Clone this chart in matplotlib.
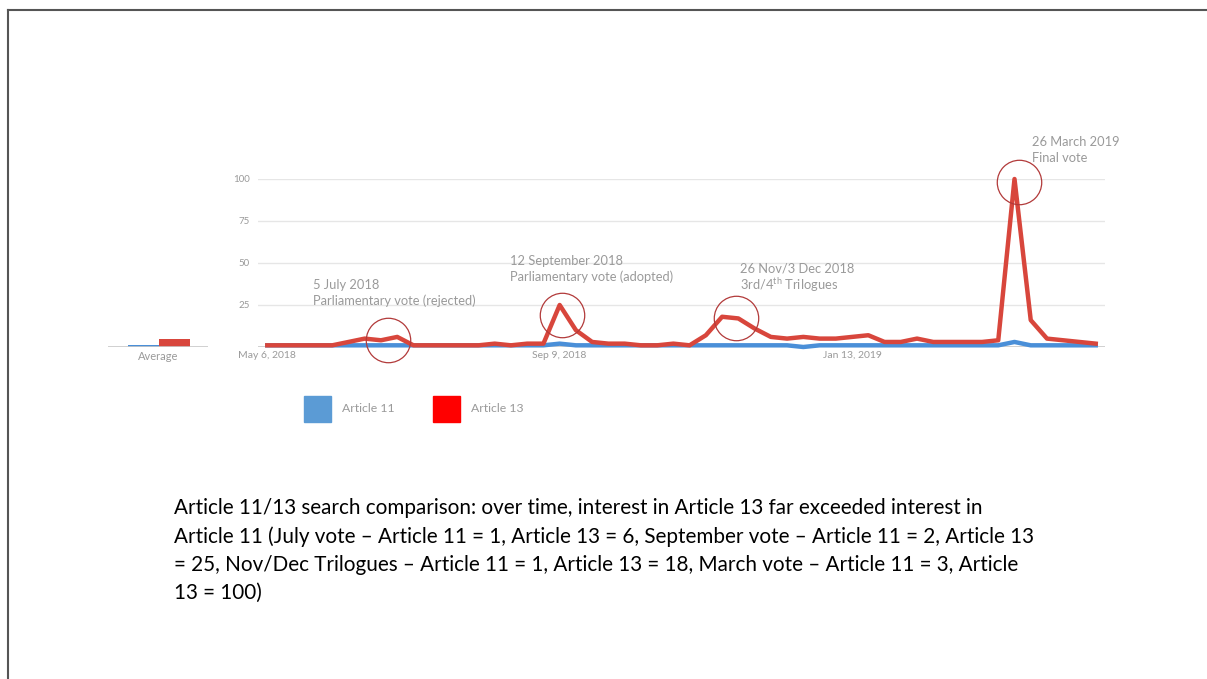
import matplotlib.pyplot as plt
import pandas as pd
import numpy as np

# Weekly Google Trends interest, May 2018 - April 2019
weeks = pd.date_range('2018-05-06', periods=52, freq='W-SUN')
article_13 = [1, 1, 1, 1, 1, 3, 5, 4, 6, 1,
              1, 1, 1, 1, 2, 1, 2, 2, 25, 10,
              3, 2, 2, 1, 1, 2, 1, 7, 18, 17,
              11, 6, 5, 6, 5, 5, 6, 7, 3, 3,
              5, 3, 3, 3, 3, 4, 100, 16, 5, 4,
              3, 2]
article_11 = [1, 1, 1, 1, 1, 1, 1, 1, 1, 1,
              1, 1, 1, 1, 1, 1, 1, 1, 2, 1,
              1, 1, 1, 1, 1, 1, 1, 1, 1, 1,
              1, 1, 1, 0, 1, 1, 1, 1, 1, 1,
              1, 1, 1, 1, 1, 1, 3, 1, 1, 1,
              1, 1]
avg_labels = ['Article 11', 'Article 13']
avg_values = [1, 5]

tick_dates = ['2018-05-06', '2018-09-09', '2019-01-13']
tick_labels = ['May 6, 2018', 'Sep 9, 2018', 'Jan 13, 2019']
y_ticks = [25, 50, 75, 100]

# events: circle centre (date, value) and two label lines
circle_dates = ['2018-06-27', '2018-09-10', '2018-11-24', '2019-03-26']
circle_vals = [4, 19, 17, 98]
event_titles = ['5 July 2018', '12 September 2018', '26 Nov/3 Dec 2018', '26 March 2019']
event_notes = ['Parliamentary vote (rejected)', 'Parliamentary vote (adopted)',
               '3rd/4$^{\\mathrm{th}}$ Trilogues', 'Final vote']
text_pos = [(313, 285), (510, 261), (740, 269), (1032, 142)]

caption = ("Article 11/13 search comparison: over time, interest in Article 13 far exceeded interest in\n"
           "Article 11 (July vote \u2013 Article 11 = 1, Article 13 = 6, September vote \u2013 Article 11 = 2, Article 13\n"
           "= 25, Nov/Dec Trilogues \u2013 Article 11 = 1, Article 13 = 18, March vote \u2013 Article 11 = 3, Article\n"
           "13 = 100)")

W, H = 1207, 679
plt.rcParams['font.family'] = ['Lato', 'DejaVu Sans']
plt.rcParams['mathtext.fontset'] = 'custom'
plt.rcParams['mathtext.rm'] = 'Lato'
fig = plt.figure(figsize=(W / 100, H / 100), dpi=100)


def px(x, y):
    return x / W, 1 - y / H


def rect(x0, y0, x1, y1):
    return [x0 / W, 1 - y1 / H, (x1 - x0) / W, (y1 - y0) / H]


red = '#d8463c'
blue = '#4a8fd8'
grey_text = '#9a9a9a'

# main chart
ax = fig.add_axes(rect(258, 179, 1105, 347))
ax.set_ylim(0, 100)
ax.set_xlim(weeks[0] - pd.Timedelta(days=4), weeks[-1] + pd.Timedelta(days=4))
for v in y_ticks:
    ax.axhline(v, color='#e6e6e6', lw=1, zorder=0)
ax.axhline(0, color='#c8c8c8', lw=1.2, zorder=0)
ax.plot(weeks, article_11, color=blue, lw=3.2, clip_on=False, solid_joinstyle='round')
ax.plot(weeks, article_13, color=red, lw=3.2, clip_on=False, solid_joinstyle='round')

for s in ax.spines.values():
    s.set_visible(False)
ax.set_yticks(y_ticks)
ax.set_yticklabels([str(v) for v in y_ticks], color=grey_text, fontsize=7)
ax.set_xticks(pd.to_datetime(tick_dates))
ax.set_xticklabels(tick_labels, color=grey_text, fontsize=7.5)
ax.tick_params(length=0, pad=3)
ax.tick_params(axis='y', pad=6)

# event circles and labels
for d, cy, l1, l2, (tx, ty) in zip(circle_dates, circle_vals, event_titles, event_notes, text_pos):
    ax.plot([pd.Timestamp(d)], [cy], 'o', ms=32, mfc='none', mec='#b23a3a', mew=0.9,
            clip_on=False, zorder=5)
    fig.text(*px(tx, ty), l1, color=grey_text, fontsize=9.3, va='center')
    fig.text(*px(tx, ty + 16), l2, color=grey_text, fontsize=9.3, va='center')

# average bars
ax2 = fig.add_axes(rect(108, 179, 208, 347))
ax2.set_ylim(0, 100)
ax2.set_xlim(-1.13, 2.07)
ax2.bar([0, 1], avg_values, width=1.0, color=[blue, red])
ax2.axhline(0, color='#c8c8c8', lw=1.2)
ax2.axis('off')
fig.text(*px(158, 357), 'Average', color=grey_text, fontsize=8, ha='center', va='center')

# legend
lx = [304, 433]
for (x0, lab, c) in zip(lx, avg_labels, ['#5b9bd5', '#ff0000']):
    fig.patches.append(plt.Rectangle(px(x0, 422), 27 / W, 26 / H, transform=fig.transFigure,
                                     color=c, figure=fig))
    fig.text(*px(x0 + 38, 409), lab, color=grey_text, fontsize=8.8, va='center')

# caption
fig.text(*px(174, 498), caption, color='black', fontsize=14.9, va='top', linespacing=1.5)

# slide border
fig.add_artist(plt.Line2D([8 / W, 1], [1 - 10 / H, 1 - 10 / H], color='#555555', lw=1.5))
fig.add_artist(plt.Line2D([8 / W, 8 / W], [0, 1 - 10 / H], color='#555555', lw=1.5))

fig.savefig('out.png', dpi=100, facecolor='white')
